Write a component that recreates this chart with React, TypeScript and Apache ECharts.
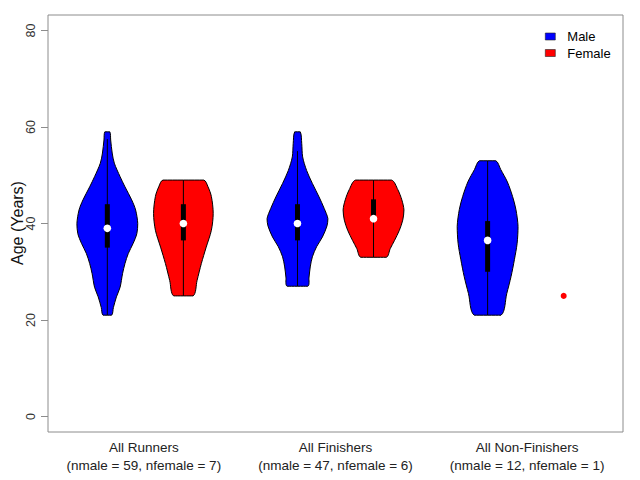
import React, { useEffect, useRef } from "react";
import * as echarts from "echarts";

const groupLabels = [
  "All Runners\n(nmale = 59, nfemale = 7)",
  "All Finishers\n(nmale = 47, nfemale = 6)",
  "All Non-Finishers\n(nmale = 12, nfemale = 1)",
];
const yTicks = [0, 20, 40, 60, 80];
const yTitle = "Age (Years)";

const malePos = [1, 3.5, 6];
const femalePos = [2, 4.5, 7];

// density outline (age, relative half-width)
const maleAges = [
  [21, 22.6, 24.8, 26.8, 29.6, 31.7, 33.8, 35.9, 37.9, 40, 42.8, 44.9, 47.6, 49.7, 52.5, 54.6, 57.3, 59],
  [27, 28.9, 31, 33.1, 35.2, 37.2, 39.5, 41, 43.1, 45.5, 48.3, 51, 53.8, 56.6, 59],
  [21, 25.5, 29, 32.5, 35.9, 39.4, 42.9, 45.6, 48.6, 51.2, 53],
];
const maleWidths = [
  [0.14, 0.2, 0.3, 0.42, 0.5, 0.58, 0.69, 0.85, 0.97, 1.0, 0.93, 0.8, 0.58, 0.42, 0.23, 0.16, 0.11, 0.08],
  [0.34, 0.38, 0.42, 0.49, 0.63, 0.82, 0.97, 1.0, 0.88, 0.71, 0.49, 0.3, 0.17, 0.14, 0.09],
  [0.44, 0.63, 0.77, 0.88, 0.97, 1.0, 0.93, 0.82, 0.65, 0.43, 0.27],
];
const femaleAges = [
  [25, 28.2, 31.7, 35.1, 38.6, 42.1, 45.6, 47.6, 49],
  [33, 34.8, 36.5, 38.6, 40.7, 42.8, 44.9, 47, 49],
  [],
];
const femaleWidths = [
  [0.32, 0.45, 0.59, 0.75, 0.92, 0.98, 0.92, 0.81, 0.67],
  [0.42, 0.55, 0.69, 0.85, 0.96, 1.0, 0.93, 0.8, 0.59],
  [],
];

const maleMedian = [39, 40, 36.5];
const maleQ1 = [35, 36.5, 30];
const maleQ3 = [44, 44, 40.5];
const maleLow = [21, 27, 21];
const maleHigh = [57.5, 55, 53];

const femaleMedian = [40, 41, 25];
const femaleQ1 = [36.5, 41, 25];
const femaleQ3 = [44, 45, 25];
const femaleLow = [25, 33, 25];
const femaleHigh = [49, 49, 25];

const MAX_HALF = 0.4;
const BLUE = "#0000FF";
const RED = "#FF0000";

function makeRender(
  pos: number[],
  ages: number[][],
  widths: number[][],
  med: number[],
  q1: number[],
  q3: number[],
  lo: number[],
  hi: number[],
  color: string
) {
  return (params: any, api: any) => {
    const i = params.dataIndex;
    const x = pos[i];
    const a = ages[i];
    const w = widths[i];
    if (!a.length) {
      const c = api.coord([x, med[i]]);
      return {
        type: "circle",
        shape: { cx: c[0], cy: c[1], r: 3 },
        style: { fill: color },
      };
    }
    const pts: number[][] = [];
    for (let k = 0; k < a.length; k++) pts.push(api.coord([x - w[k] * MAX_HALF, a[k]]));
    for (let k = a.length - 1; k >= 0; k--) pts.push(api.coord([x + w[k] * MAX_HALF, a[k]]));
    let minX = Infinity, minY = Infinity, maxX = -Infinity, maxY = -Infinity;
    pts.forEach((p) => {
      minX = Math.min(minX, p[0]);
      maxX = Math.max(maxX, p[0]);
      minY = Math.min(minY, p[1]);
      maxY = Math.max(maxY, p[1]);
    });
    const cTop = api.coord([x, hi[i]]);
    const cBot = api.coord([x, lo[i]]);
    const bq1 = api.coord([x, q1[i]]);
    const bq3 = api.coord([x, q3[i]]);
    const cm = api.coord([x, med[i]]);
    return {
      type: "group",
      children: [
        {
          type: "polygon",
          shape: {
            points: pts,
            smooth: 0.3,
            smoothConstraint: [
              [minX, minY],
              [maxX, maxY],
            ],
          },
          style: { fill: color, stroke: "#000", lineWidth: 1 },
        },
        {
          type: "line",
          shape: { x1: cTop[0], y1: cTop[1], x2: cBot[0], y2: cBot[1] },
          style: { stroke: "#000", lineWidth: 1 },
        },
        {
          type: "rect",
          shape: { x: bq3[0] - 2.5, y: bq3[1], width: 5, height: Math.max(bq1[1] - bq3[1], 1) },
          style: { fill: "#000" },
        },
        {
          type: "circle",
          shape: { cx: cm[0], cy: cm[1], r: 3.8 },
          style: { fill: "#fff" },
        },
      ],
    };
  };
}

export default function App() {
  const ref = useRef<HTMLDivElement>(null);
  useEffect(() => {
    document.body.style.margin = "0";
    const chart = echarts.init(ref.current!, null, { renderer: "svg" });
    const font = "'Liberation Sans', Arial, sans-serif";
    chart.setOption({
      animation: false,
      textStyle: { fontFamily: font },
      grid: {
        left: 48,
        right: 17,
        top: 15,
        bottom: 48,
        show: true,
        borderColor: "#8c8c8c",
        borderWidth: 1,
        backgroundColor: "transparent",
        containLabel: false,
        outerBoundsMode: "none",
      },
      graphic: [
        {
          type: "text",
          x: 17,
          y: 223,
          rotation: Math.PI / 2,
          style: {
            text: yTitle,
            fontSize: 16,
            fill: "#111",
            fontFamily: font,
            align: "center",
            verticalAlign: "middle",
          },
        },
      ],
      legend: {
        orient: "vertical",
        left: 540,
        top: 25,
        itemWidth: 10,
        itemHeight: 7,
        itemGap: 3.5,
        textStyle: { fontSize: 13, color: "#000", fontFamily: font, padding: [0, 0, 0, 7] },
        data: [
          { name: "Male", icon: "rect", itemStyle: { color: BLUE, borderColor: "#222", borderWidth: 0.6 } },
          { name: "Female", icon: "rect", itemStyle: { color: RED, borderColor: "#222", borderWidth: 0.6 } },
        ],
      },
      xAxis: [
        {
          type: "value",
          min: 0.22,
          max: 7.78,
          show: false,
        },
        {
          type: "category",
          data: groupLabels,
          position: "bottom",
          axisLine: { show: false },
          axisTick: { show: false },
          axisLabel: {
            interval: 0,
            hideOverlap: false,
            fontSize: 13.5,
            color: "#222",
            lineHeight: 18,
            margin: 6,
            fontFamily: font,
          },
        },
      ],
      yAxis: {
        type: "value",
        min: -3.2,
        max: 83.2,
        axisLine: { show: false },
        splitLine: { show: false },
        axisTick: { show: true, length: 7, lineStyle: { color: "#8c8c8c" }, customValues: yTicks },
        axisLabel: {
          rotate: 90,
          fontSize: 12.5,
          color: "#333",
          margin: 11,
          customValues: yTicks,
          fontFamily: font,
        },
      },
      series: [
        {
          name: "Male",
          type: "custom",
          xAxisIndex: 0,
          itemStyle: { color: BLUE },
          data: malePos.map((p, i) => [p, maleMedian[i]]),
          encode: { x: 0, y: 1 },
          renderItem: makeRender(malePos, maleAges, maleWidths, maleMedian, maleQ1, maleQ3, maleLow, maleHigh, BLUE),
        },
        {
          name: "Female",
          type: "custom",
          xAxisIndex: 0,
          itemStyle: { color: RED },
          data: femalePos.map((p, i) => [p, femaleMedian[i]]),
          encode: { x: 0, y: 1 },
          renderItem: makeRender(femalePos, femaleAges, femaleWidths, femaleMedian, femaleQ1, femaleQ3, femaleLow, femaleHigh, RED),
        },
      ],
    });
    return () => chart.dispose();
  }, []);
  return <div ref={ref} style={{ width: 640, height: 480 }} />;
}
